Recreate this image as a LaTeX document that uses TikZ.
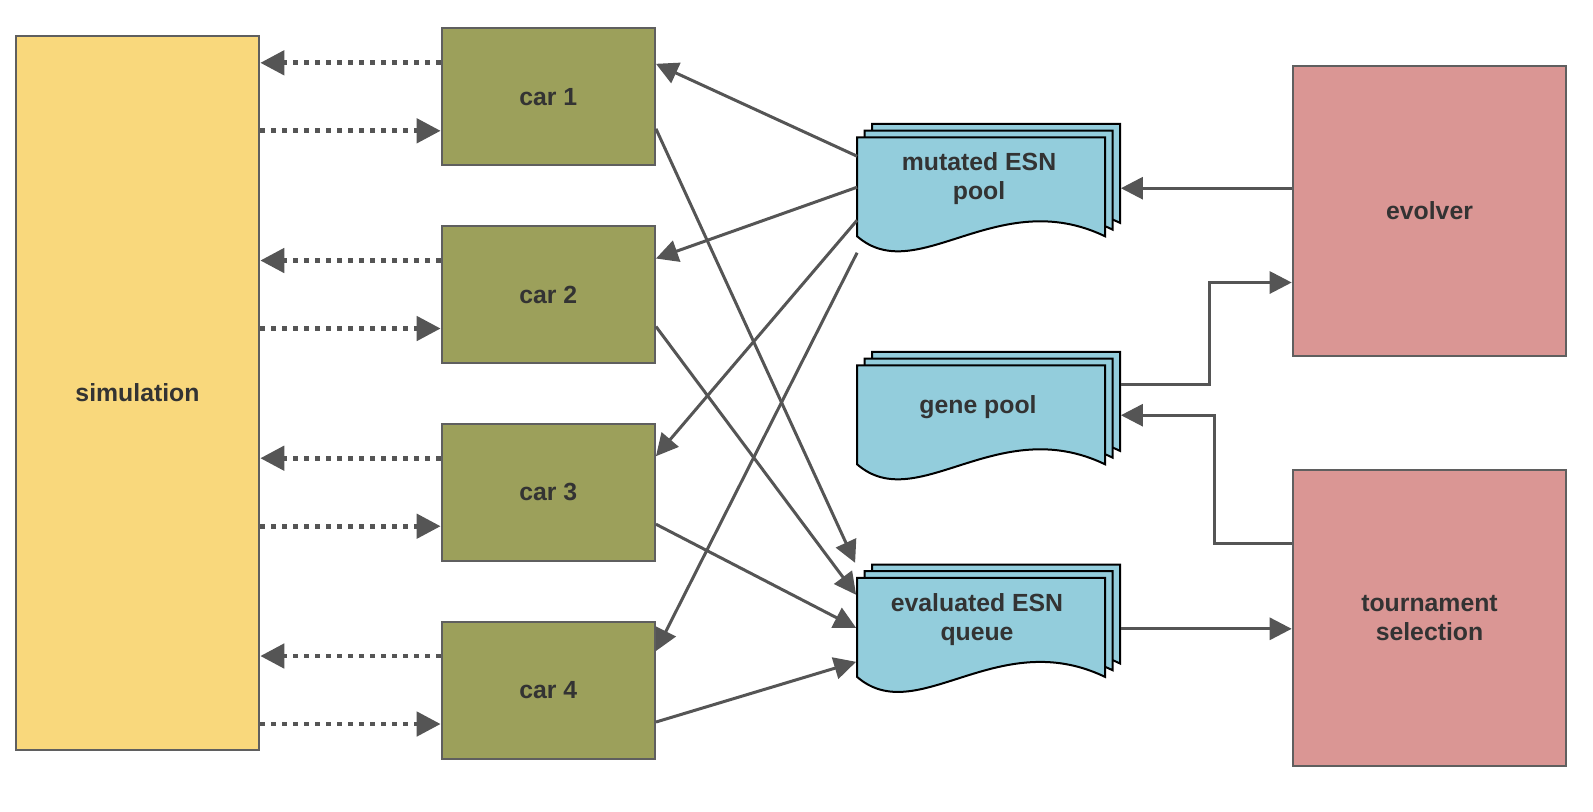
\documentclass[tikz,border=0pt]{standalone}
\usepackage{fontspec}
\setmainfont{Liberation Sans}
\usetikzlibrary{arrows.meta,calc}
\definecolor{simyellow}{HTML}{F9D87C}
\definecolor{carolive}{HTML}{9CA05B}
\definecolor{docblue}{HTML}{93CDDC}
\definecolor{selpink}{HTML}{DA9694}
\definecolor{boxgray}{HTML}{5F5F5F}
\definecolor{arrgray}{HTML}{555555}
\definecolor{txtgray}{HTML}{333333}
\tikzset{
  box/.style    ={rectangle, draw=boxgray, line width=1pt, align=center,
                  inner sep=0pt, text=txtgray,
                  font=\bfseries\fontsize{12.4}{14.3}\selectfont},
  simbox/.style ={box, fill=simyellow, minimum width=121.8pt, minimum height=357.3pt},
  carbox/.style ={box, fill=carolive, minimum width=106.65pt, minimum height=68.5pt},
  selbox/.style ={box, fill=selpink, minimum width=136.8pt},
  page/.style   ={rectangle, minimum width=124pt, minimum height=49.5pt, inner sep=0pt},
  doclbl/.style ={align=center, inner sep=0pt, text=txtgray,
                  font=\bfseries\fontsize{12.4}{14.3}\selectfont},
  docshape/.style={fill=docblue, draw=black, line width=1pt, line join=miter},
  arr/.style    ={-{Triangle[length=11pt,width=11pt]}, line width=1.5pt, draw=arrgray},
  dotarr/.style ={-{Triangle[length=12pt,width=12pt]}, draw=arrgray,
                  line width=2.4pt, dash pattern=on 2.4pt off 3.1pt},
}
% stack of three pages behind the page node #1
\newcommand{\docstack}[1]{%
  \foreach \off in {2,1,0}{
    \filldraw[docshape, shift={($(#1.north west)+(7.5*\off,-6.7*\off)$)}]
      (0,0) -- (248,0) -- (248,99) .. controls (140,47) and (60,151) .. (0,99) -- cycle;
  }}

\begin{document}
\begin{tikzpicture}[x=0.5pt, y=-0.5pt]
  \useasboundingbox (0,0) rectangle (1593,811);

  % simulation and cars
  \node[simbox] (sim) at (137.5,393) {simulation};
  \node[carbox] (car1) at (548.3,96.8) {car 1};
  \node[carbox] (car2) at (548.3,294.5) {car 2};
  \node[carbox] (car3) at (548.3,492.2) {car 3};
  \node[carbox] (car4) at (548.3,690) {car 4};

  % pools / queue
  \node[page] (mutp) at (981.5,187.2) {};
  \node[page] (genep) at (981.5,415.2) {};
  \node[page] (queuep) at (981.5,627.8) {};
  \docstack{mutp}
  \docstack{genep}
  \docstack{queuep}
  \node[doclbl] (mut) at ($(mutp)+(-2.5,-8.5)$) {mutated ESN\\pool};
  \node[doclbl] (gene) at ($(genep)+(-3.5,-8.5)$) {gene pool};
  \node[doclbl] (queue) at ($(queuep)+(-4.5,-8)$) {evaluated ESN\\queue};

  % evolution side
  \node[selbox, minimum height=144.7pt] (evo) at (1429.5,211) {evolver};
  \node[selbox, minimum height=148.15pt] (tour) at (1429.5,617.85) {tournament\\selection};

  % simulation <-> cars
  \foreach \c in {car1,car2,car3,car4}{
    \path ($(\c.west)+(0,-34)$) coordinate (up) ($(\c.west)+(0,34)$) coordinate (dn);
    \draw[dotarr] (up) -- (up -| sim.east);
    \draw[dotarr] (dn -| sim.east) -- (dn);
  }

  % mutated pool -> cars
  \draw[arr] ($(mutp.west)+(0,-31)$) -- ($(car1.east)+(0,-33)$);
  \draw[arr] (mutp.west) -- ($(car2.east)+(0,-36)$);
  \draw[arr] ($(mutp.west)+(0,33)$) -- ($(car3.east)+(0,-36)$);
  \draw[arr] ($(mutp.west)+(0,65.5)$) -- ($(car4.east)+(0,-39)$);

  % cars -> evaluated queue
  \draw[arr] ($(car1.east)+(0,32)$) -- ($(queuep.west)+(-2,-65)$);
  \draw[arr] ($(car2.east)+(0,32)$) -- ($(queuep.west)+(-1,-33)$);
  \draw[arr] ($(car3.east)+(0,32)$) -- ($(queuep.west)+(-1,0)$);
  \draw[arr] ($(car4.east)+(0,32)$) -- ($(queuep.west)+(-1,34)$);

  % evolver / selection links
  \coordinate (mutE) at ($(mutp.east)+(15,1)$);
  \coordinate (geneE) at ($(genep.east)+(15,-31)$);
  \coordinate (geneIn) at ($(genep.east)+(15,0)$);
  \coordinate (queueE) at ($(queuep.east)+(15,1)$);
  \draw[arr] (evo.west |- mutE) -- (mutE);
  \draw[arr] (geneE) -- ++(88.5,0) |- ($(evo.west)+(0,71.5)$);
  \draw[arr] ($(tour.west)+(0,-74.5)$) -- ++(-77,0) |- (geneIn);
  \draw[arr] (queueE) -- (queueE -| tour.west);
\end{tikzpicture}
\end{document}
